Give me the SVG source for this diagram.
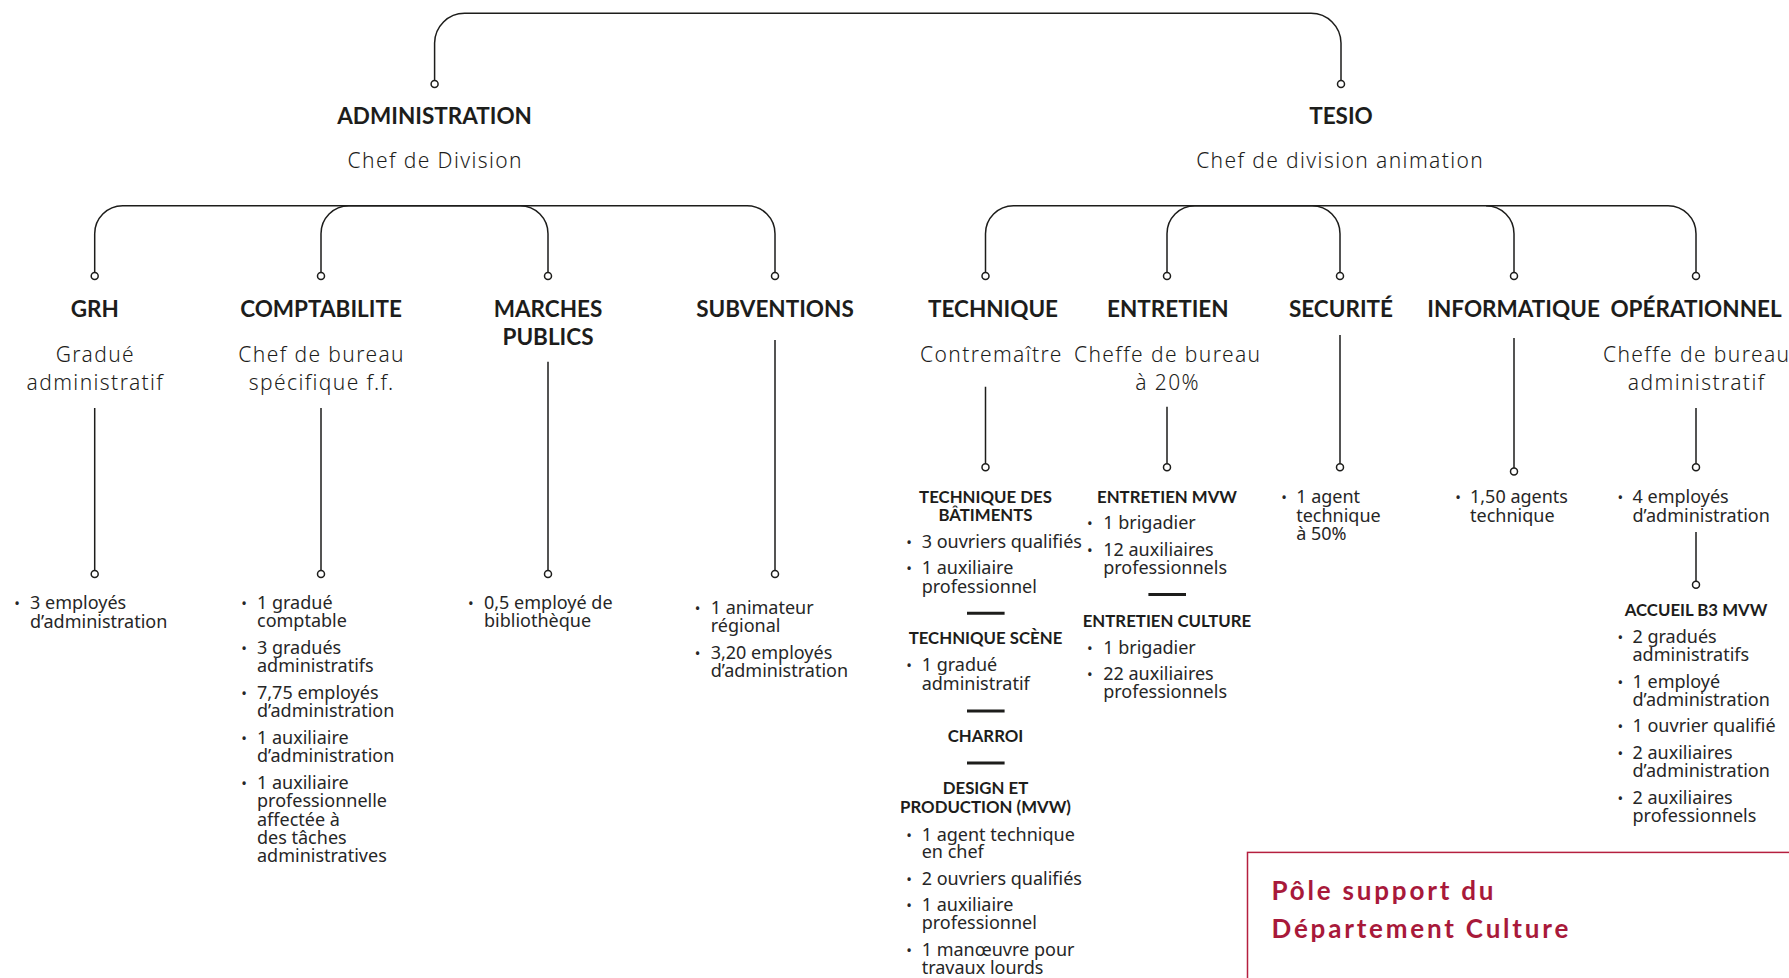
<svg xmlns="http://www.w3.org/2000/svg" width="1789" height="978" viewBox="0 0 1789 978">
<style>
.t{font-family:Lato,"Open Sans",sans-serif;font-weight:700;font-size:22.5px;text-anchor:middle;fill:#1d1d1b}
.s{font-family:"Noto Sans","Open Sans",sans-serif;font-weight:300;font-size:21px;letter-spacing:1.4px;text-anchor:middle;fill:#1d1d1b}
.h{font-family:Lato,"Open Sans",sans-serif;font-weight:700;font-size:16.8px;text-anchor:middle;fill:#1d1d1b}
.b{font-family:"Noto Sans","Open Sans",sans-serif;font-weight:400;font-size:18px;fill:#262626}
.u{font-family:"Noto Sans",sans-serif;font-size:15px;text-anchor:middle;fill:#262626}
.c{fill:none;stroke:#1d1d1b;stroke-width:1.5}
.d{fill:#fff;stroke:#1d1d1b;stroke-width:1.5}
.sep{stroke:#1d1d1b;stroke-width:3}
.r{font-family:Lato,"Open Sans",sans-serif;font-weight:700;font-size:26px;letter-spacing:2.8px;fill:#a8193a}
</style>
<rect width="1789" height="978" fill="#fff"/>
<g id="connectors">
<path class="c" d="M434.6,80.5 V43 A30,30 0 0 1 464.6,13.3 H1311 A30,30 0 0 1 1341,43 V80.5"/>
<path class="c" d="M94.7,272.5 V234 A28,28 0 0 1 122.7,205.7 H747 A28,28 0 0 1 775,234 V272.5"/>
<path class="c" d="M321,272.5 V234 A28,28 0 0 1 349,205.7 H520 A28,28 0 0 1 548,234 V272.5"/>
<path class="c" d="M985.5,272.5 V234 A28,28 0 0 1 1013.5,205.7 H1668 A28,28 0 0 1 1696,234 V272.5"/>
<path class="c" d="M1167,272.5 V234 A28,28 0 0 1 1195,205.7 H1312 A28,28 0 0 1 1340,234 V272.5"/>
<path class="c" d="M1486,205.7 A28,28 0 0 1 1514,234 V272.5"/>
<path class="c" d="M94.7,408 V570.5 M321,408 V570.5 M548,361.7 V570.5 M775,340 V570.5"/>
<path class="c" d="M985.5,386.7 V463.8 M1167,406.7 V463.8 M1340,335 V463.8 M1514,338 V468 M1696,408 V463.8 M1696,532 V581.3"/>
<circle class="d" cx="434.6" cy="84" r="3.5"/>
<circle class="d" cx="1341" cy="84" r="3.5"/>
<circle class="d" cx="94.7" cy="276" r="3.5"/>
<circle class="d" cx="321" cy="276" r="3.5"/>
<circle class="d" cx="548" cy="276" r="3.5"/>
<circle class="d" cx="775" cy="276" r="3.5"/>
<circle class="d" cx="985.5" cy="276" r="3.5"/>
<circle class="d" cx="1167" cy="276" r="3.5"/>
<circle class="d" cx="1340" cy="276" r="3.5"/>
<circle class="d" cx="1514" cy="276" r="3.5"/>
<circle class="d" cx="1696" cy="276" r="3.5"/>
<circle class="d" cx="94.7" cy="574" r="3.5"/>
<circle class="d" cx="321" cy="574" r="3.5"/>
<circle class="d" cx="548" cy="574" r="3.5"/>
<circle class="d" cx="775" cy="574" r="3.5"/>
<circle class="d" cx="985.5" cy="467.3" r="3.5"/>
<circle class="d" cx="1167" cy="467.3" r="3.5"/>
<circle class="d" cx="1340" cy="467.3" r="3.5"/>
<circle class="d" cx="1514" cy="471.6" r="3.5"/>
<circle class="d" cx="1696" cy="467.3" r="3.5"/>
<circle class="d" cx="1696" cy="584.8" r="3.5"/>
</g>
<g id="administration">
<text class="t" x="434.6" y="124">ADMINISTRATION</text>
<text class="s" x="435.3" y="168">Chef de Division</text>
</g>
<g id="tesio">
<text class="t" x="1341" y="124">TESIO</text>
<text class="s" x="1340.2" y="168">Chef de division animation</text>
</g>
<g id="grh">
<text class="t" x="94.7" y="316.7">GRH</text>
<text class="s"><tspan x="95.4" y="361.7">Gradué</tspan><tspan x="95.4" y="390">administratif</tspan></text>
<text class="u" x="17" y="609">•</text>
<text class="b"><tspan x="30" y="609">3 employés</tspan><tspan x="30" y="627.5">d’administration</tspan></text>
</g>
<g id="comptabilite">
<text class="t" x="321" y="316.7">COMPTABILITE</text>
<text class="s"><tspan x="321.7" y="361.7">Chef de bureau</tspan><tspan x="321.7" y="390">spécifique f.f.</tspan></text>
<text class="u"><tspan x="244" y="609">•</tspan><tspan x="244" y="654">•</tspan><tspan x="244" y="699">•</tspan><tspan x="244" y="744">•</tspan><tspan x="244" y="789">•</tspan></text>
<text class="b"><tspan x="257" y="609">1 gradué</tspan><tspan x="257" y="627.3">comptable</tspan></text>
<text class="b"><tspan x="257" y="654">3 gradués</tspan><tspan x="257" y="672.3">administratifs</tspan></text>
<text class="b"><tspan x="257" y="699">7,75 employés</tspan><tspan x="257" y="717">d’administration</tspan></text>
<text class="b"><tspan x="257" y="744">1 auxiliaire</tspan><tspan x="257" y="761.5">d’administration</tspan></text>
<text class="b"><tspan x="257" y="789">1 auxiliaire</tspan><tspan x="257" y="807.4">professionnelle</tspan><tspan x="257" y="825.7">affectée à</tspan><tspan x="257" y="844">des tâches</tspan><tspan x="257" y="862.4">administratives</tspan></text>
</g>
<g id="marches-publics">
<text class="t"><tspan x="548" y="316.7">MARCHES</tspan><tspan x="548" y="345">PUBLICS</tspan></text>
<text class="u" x="470.7" y="609">•</text>
<text class="b"><tspan x="484" y="609">0,5 employé de</tspan><tspan x="484" y="627.3">bibliothèque</tspan></text>
</g>
<g id="subventions">
<text class="t" x="775" y="316.7">SUBVENTIONS</text>
<text class="u"><tspan x="697.5" y="614">•</tspan><tspan x="697.5" y="659">•</tspan></text>
<text class="b"><tspan x="710.7" y="614">1 animateur</tspan><tspan x="710.7" y="632.4">régional</tspan></text>
<text class="b"><tspan x="710.7" y="659">3,20 employés</tspan><tspan x="710.7" y="676.8">d’administration</tspan></text>
</g>
<g id="technique">
<text class="t" x="993" y="316.7">TECHNIQUE</text>
<text class="s" x="991.4" y="361.7">Contremaître</text>
<text class="h"><tspan x="985.5" y="502.9">TECHNIQUE DES</tspan><tspan x="985.5" y="521.4">BÂTIMENTS</tspan></text>
<text class="u"><tspan x="909" y="547.5">•</tspan><tspan x="909" y="573.5">•</tspan></text>
<text class="b" x="921.7" y="547.5">3 ouvriers qualifiés</text>
<text class="b"><tspan x="921.7" y="573.5">1 auxiliaire</tspan><tspan x="921.7" y="593">professionnel</tspan></text>
<line class="sep" x1="967" y1="613.2" x2="1004.6" y2="613.2"/>
<text class="h" x="985.5" y="644.2">TECHNIQUE SCÈNE</text>
<text class="u" x="909" y="671.4">•</text>
<text class="b"><tspan x="921.7" y="671.4">1 gradué</tspan><tspan x="921.7" y="689.8">administratif</tspan></text>
<line class="sep" x1="967" y1="711" x2="1004.6" y2="711"/>
<text class="h" x="985.5" y="742">CHARROI</text>
<line class="sep" x1="967" y1="763" x2="1004.6" y2="763"/>
<text class="h"><tspan x="985.5" y="794.4">DESIGN ET</tspan><tspan x="985.5" y="813.2">PRODUCTION (MVW)</tspan></text>
<text class="u"><tspan x="909" y="840.5">•</tspan><tspan x="909" y="884.9">•</tspan><tspan x="909" y="910.9">•</tspan><tspan x="909" y="956">•</tspan></text>
<text class="b"><tspan x="921.7" y="840.5">1 agent technique</tspan><tspan x="921.7" y="858.2">en chef</tspan></text>
<text class="b" x="921.7" y="884.9">2 ouvriers qualifiés</text>
<text class="b"><tspan x="921.7" y="910.9">1 auxiliaire</tspan><tspan x="921.7" y="929.4">professionnel</tspan></text>
<text class="b"><tspan x="921.7" y="956">1 manœuvre pour</tspan><tspan x="921.7" y="973.8">travaux lourds</tspan></text>
</g>
<g id="entretien">
<text class="t" x="1167.8" y="316.7">ENTRETIEN</text>
<text class="s"><tspan x="1167.7" y="361.7">Cheffe de bureau</tspan><tspan x="1167.7" y="390">à 20%</tspan></text>
<text class="h" x="1167" y="502.9">ENTRETIEN MVW</text>
<text class="u"><tspan x="1089.9" y="529">•</tspan><tspan x="1089.9" y="555.7">•</tspan></text>
<text class="b" x="1103.2" y="529">1 brigadier</text>
<text class="b"><tspan x="1103.2" y="555.7">12 auxiliaires</tspan><tspan x="1103.2" y="573.5">professionnels</tspan></text>
<line class="sep" x1="1148.4" y1="594.4" x2="1186" y2="594.4"/>
<text class="h" x="1167" y="627">ENTRETIEN CULTURE</text>
<text class="u"><tspan x="1089.9" y="653.5">•</tspan><tspan x="1089.9" y="679.5">•</tspan></text>
<text class="b" x="1103.2" y="653.5">1 brigadier</text>
<text class="b"><tspan x="1103.2" y="679.5">22 auxiliaires</tspan><tspan x="1103.2" y="698">professionnels</tspan></text>
</g>
<g id="securite">
<text class="t" x="1341" y="316.7">SECURITÉ</text>
<text class="u" x="1284" y="503.4">•</text>
<text class="b"><tspan x="1296.2" y="503.4">1 agent</tspan><tspan x="1296.2" y="521.9">technique</tspan><tspan x="1296.2" y="539.7">à 50%</tspan></text>
</g>
<g id="informatique">
<text class="t" x="1513.6" y="316.7">INFORMATIQUE</text>
<text class="u" x="1458" y="503.4">•</text>
<text class="b"><tspan x="1470" y="503.4">1,50 agents</tspan><tspan x="1470" y="521.9">technique</tspan></text>
</g>
<g id="operationnel">
<text class="t" x="1696" y="316.7">OPÉRATIONNEL</text>
<text class="s"><tspan x="1696.7" y="361.7">Cheffe de bureau</tspan><tspan x="1696.7" y="390">administratif</tspan></text>
<text class="u" x="1620.3" y="503.4">•</text>
<text class="b"><tspan x="1632.5" y="503.4">4 employés</tspan><tspan x="1632.5" y="521.9">d’administration</tspan></text>
</g>
<g id="accueil-b3-mvw">
<text class="h" x="1696" y="615.7">ACCUEIL B3 MVW</text>
<text class="u"><tspan x="1620.3" y="642.9">•</tspan><tspan x="1620.3" y="688.1">•</tspan><tspan x="1620.3" y="731.9">•</tspan><tspan x="1620.3" y="758.5">•</tspan><tspan x="1620.3" y="803.8">•</tspan></text>
<text class="b"><tspan x="1632.5" y="642.9">2 gradués</tspan><tspan x="1632.5" y="660.7">administratifs</tspan></text>
<text class="b"><tspan x="1632.5" y="688.1">1 employé</tspan><tspan x="1632.5" y="705.9">d’administration</tspan></text>
<text class="b" x="1632.5" y="731.9">1 ouvrier qualifié</text>
<text class="b"><tspan x="1632.5" y="758.5">2 auxiliaires</tspan><tspan x="1632.5" y="777.1">d’administration</tspan></text>
<text class="b"><tspan x="1632.5" y="803.8">2 auxiliaires</tspan><tspan x="1632.5" y="821.9">professionnels</tspan></text>
</g>
<g id="pole-support">
<rect x="1247.5" y="852.4" width="600" height="200" fill="none" stroke="#b51f3f" stroke-width="1.5"/>
<text class="r"><tspan x="1271.5" y="900.4">Pôle support du</tspan><tspan x="1271.5" y="938">Département Culture</tspan></text>
</g>
</svg>
